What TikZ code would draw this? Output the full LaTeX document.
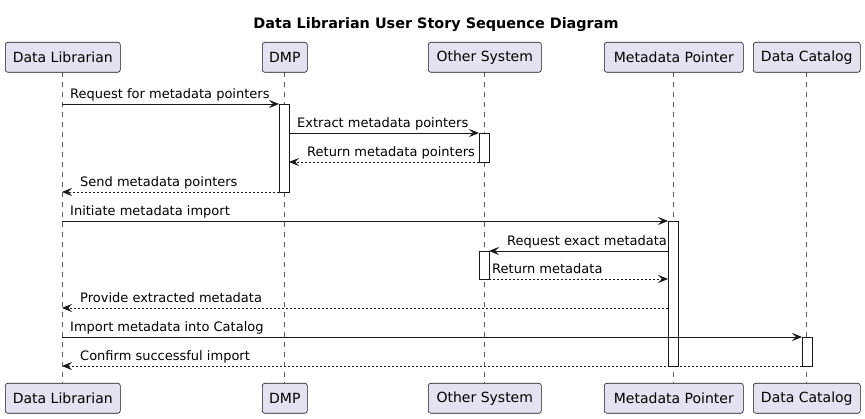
\documentclass[tikz,border=0pt]{standalone}
\usepackage{fontspec}
\setmainfont{DejaVu Sans}
\usetikzlibrary{arrows.meta}
\definecolor{pfill}{HTML}{E2E2F0}
\definecolor{pline}{HTML}{181818}
\tikzset{
  part/.style={draw=pline, fill=pfill, rounded corners=2.5pt, line width=0.6pt, inner sep=0pt, minimum height=30pt, font=\fontsize{14}{16}\selectfont, anchor=north west},
  lifeline/.style={draw=pline!70, line width=0.6pt, dash pattern=on 5pt off 5pt},
  actbox/.style={draw=pline, fill=white, line width=0.8pt},
  msg/.style={draw=pline, line width=0.9pt, -{Stealth[length=10pt,width=8pt,inset=4pt]}},
  ret/.style={msg, dash pattern=on 2pt off 2pt},
  lbl/.style={font=\fontsize{13}{15}\selectfont, anchor=base west, inner sep=0pt},
}
\begin{document}
\begin{tikzpicture}[x=1pt,y=-1pt]
\useasboundingbox (0,0) rectangle (865,419);
\fill[white] (0,0) rectangle (865,419);
\node[font=\bfseries\fontsize{14.4}{16}\selectfont, anchor=base] (title) at (436,28.5) {Data Librarian User Story Sequence Diagram};

% lifelines
\foreach \n/\x in {dl/62,dmp/284,os/484,mp/673,dc/806}{
  \coordinate (\n t) at (\x,72);
  \coordinate (\n b) at (\x,383);
  \draw[lifeline] (\n t) -- (\n b);
}

% participants top
\node[part, minimum width=115pt] (dlT) at (5,42) {Data Librarian};
\node[part, minimum width=45pt] (dmpT) at (262,42) {DMP};
\node[part, minimum width=113pt] (osT) at (428,42) {Other System};
\node[part, minimum width=139pt] (mpT) at (604,42) {Metadata Pointer};
\node[part, minimum width=107pt] (dcT) at (753,42) {Data Catalog};
% participants bottom
\node[part, minimum width=115pt] (dlB) at (5,383) {Data Librarian};
\node[part, minimum width=45pt] (dmpB) at (262,383) {DMP};
\node[part, minimum width=113pt] (osB) at (428,383) {Other System};
\node[part, minimum width=139pt] (mpB) at (604,383) {Metadata Pointer};
\node[part, minimum width=107pt] (dcB) at (753,383) {Data Catalog};

% activations
\draw[actbox] (279,104) rectangle (289,192);
\draw[actbox] (479,133) rectangle (489,162);
\draw[actbox] (668,221) rectangle (678,366);
\draw[actbox] (479,251) rectangle (489,279);
\draw[actbox] (802,337) rectangle (812,366);

% message endpoints
\coordinate (m1a) at (62,104);  \coordinate (m1b) at (279,104);
\coordinate (m2a) at (289,133); \coordinate (m2b) at (479,133);
\coordinate (m3a) at (479,162); \coordinate (m3b) at (289,162);
\coordinate (m4a) at (279,192); \coordinate (m4b) at (62,192);
\coordinate (m5a) at (62,221);  \coordinate (m5b) at (668,221);
\coordinate (m6a) at (668,251); \coordinate (m6b) at (489,251);
\coordinate (m7a) at (489,279); \coordinate (m7b) at (668,279);
\coordinate (m8a) at (668,308); \coordinate (m8b) at (62,308);
\coordinate (m9a) at (62,337);  \coordinate (m9b) at (802,337);
\coordinate (m10a) at (802,366); \coordinate (m10b) at (62,366);

\draw[msg] (m1a) -- (m1b);
\draw[msg] (m2a) -- (m2b);
\draw[ret] (m3a) -- (m3b);
\draw[ret] (m4a) -- (m4b);
\draw[msg] (m5a) -- (m5b);
\draw[msg] (m6a) -- (m6b);
\draw[ret] (m7a) -- (m7b);
\draw[ret] (m8a) -- (m8b);
\draw[msg] (m9a) -- (m9b);
\draw[ret] (m10a) -- (m10b);

% labels
\node[lbl] (l1) at (70,99) {Request for metadata pointers};
\node[lbl] (l2) at (297,128) {Extract metadata pointers};
\node[lbl] (l3) at (307,157) {Return metadata pointers};
\node[lbl] (l4) at (80,187) {Send metadata pointers};
\node[lbl] (l5) at (70,216) {Initiate metadata import};
\node[lbl] (l6) at (507,246) {Request exact metadata};
\node[lbl] (l7) at (492,274) {Return metadata};
\node[lbl] (l8) at (80,303) {Provide extracted metadata};
\node[lbl] (l9) at (70,332) {Import metadata into Catalog};
\node[lbl] (l10) at (80,361) {Confirm successful import};
\end{tikzpicture}
\end{document}
